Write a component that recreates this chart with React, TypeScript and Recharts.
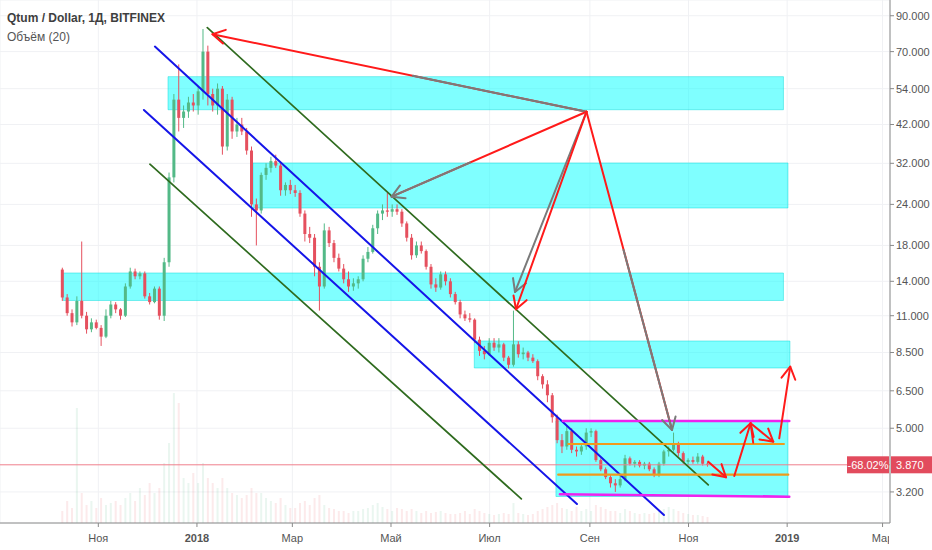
import React from 'react';
import { ComposedChart, Bar, XAxis, YAxis, CartesianGrid, ReferenceArea, ReferenceLine } from 'recharts';

const W = 932;
const H = 550;
const Y_AXIS_W = 42;
const X_AXIS_H = 27;
const FONT = '"Liberation Sans", Arial, sans-serif';

// days counted from 2018-01-01; one candle = 3 days
const FIRST_DAY = -83;
const STEP_DAYS = 3;

// [open, high, low, close]
const CANDLES: [number, number, number, number][] = [
  [15.2, 15.4, 12.2, 12.5], [12.5, 12.8, 11.0, 11.2], [11.2, 11.5, 10.2, 10.5], [10.5, 12.6, 10.3, 12.2],
  [12.2, 18.5, 10.8, 11.0], [11.0, 11.3, 9.7, 10.0], [10.0, 10.8, 9.8, 10.5], [10.5, 10.7, 10.0, 10.1],
  [10.1, 10.3, 8.9, 9.5], [9.5, 11.5, 9.4, 11.0], [11.0, 12.2, 10.8, 11.9], [11.9, 12.1, 11.2, 11.5],
  [11.5, 11.6, 10.7, 11.0], [11.0, 13.8, 10.9, 13.5], [13.5, 15.4, 13.3, 15.0], [15.0, 15.3, 14.2, 14.5],
  [14.5, 15.0, 14.2, 14.8], [14.8, 15.0, 12.4, 12.6], [12.6, 12.9, 11.9, 12.1], [12.1, 13.5, 12.0, 13.3],
  [13.3, 13.5, 10.7, 11.0], [11.0, 16.5, 10.6, 16.0], [16.0, 30, 15.5, 29], [29, 52, 28, 50],
  [50, 64, 40, 44], [44, 48, 41, 46], [46, 51, 44, 49], [49, 52, 46, 48],
  [48, 55, 45, 53], [53, 82, 50, 70], [70, 73, 48, 52], [52, 54, 46, 48],
  [48, 56, 45, 54], [54, 55, 34, 36], [36, 52, 35, 50], [50, 51, 38, 40],
  [40, 44, 38.5, 42], [42, 44, 39, 40], [40, 41, 34, 35], [35, 36, 22, 24],
  [24, 25, 18, 23], [23, 30, 22.5, 29.5], [29.5, 32, 28.5, 31], [31, 33.5, 30, 32.5],
  [32.5, 34, 31, 31.5], [31.5, 32, 25.5, 26.5], [26.5, 28, 25.5, 27.5], [27.5, 28.5, 25.8, 26.5],
  [26.5, 27.5, 25.3, 26], [26, 26.5, 22, 22.5], [22.5, 23, 18.5, 19.5], [19.5, 20.5, 18.3, 19],
  [19, 19.5, 14.5, 15.5], [15.5, 16, 11.4, 13.5], [13.5, 21, 13.3, 20], [20, 20.5, 17.8, 18.3],
  [18.3, 18.7, 16, 16.5], [16.5, 17, 15, 15.3], [15.3, 15.8, 13.8, 14.2], [14.2, 15, 13, 13.5],
  [13.5, 14.3, 13.1, 13.8], [13.8, 14.5, 13.3, 14.2], [14.2, 16.8, 14, 16.4], [16.4, 17.8, 16, 17.2],
  [17.2, 20.8, 17, 20.3], [20.3, 23, 19.5, 22.5], [22.5, 24, 21.5, 23], [23, 26, 22, 22.8],
  [22.8, 24, 22, 23.2], [23.2, 24, 22.3, 22.8], [22.8, 23.2, 20.5, 21], [21, 21.3, 18.5, 19],
  [19, 19.5, 16.3, 16.8], [16.8, 18.5, 16.5, 18], [18, 18.5, 17, 17.3], [17.3, 17.5, 15.2, 15.5],
  [15.5, 15.8, 13.3, 13.7], [13.7, 14.3, 13, 13.4], [13.4, 15, 13.2, 14.7], [14.7, 15, 13.6, 14],
  [14, 14.3, 12.5, 12.8], [12.8, 13, 11.9, 12.1], [12.1, 12.3, 10.8, 11.1], [11.1, 11.4, 10.6, 10.8],
  [10.8, 11.2, 10.5, 10.7], [10.7, 10.8, 9.1, 9.3], [9.3, 9.5, 8.3, 8.6], [8.6, 8.9, 8.1, 8.4],
  [8.4, 9.4, 8.3, 9.1], [9.1, 9.4, 8.6, 8.8], [8.8, 9.4, 8.5, 9.0], [9.0, 9.1, 8.0, 8.2],
  [8.2, 8.3, 7.6, 7.8], [7.8, 11.4, 7.7, 9.0], [9.0, 9.2, 8.2, 8.4], [8.4, 8.8, 8.1, 8.5],
  [8.5, 8.6, 8.0, 8.2], [8.2, 8.4, 7.9, 8.0], [8.0, 8.1, 7.0, 7.2], [7.2, 7.3, 6.6, 6.8],
  [6.8, 7.0, 6.0, 6.3], [6.3, 6.4, 5.2, 5.4], [5.4, 5.5, 4.5, 4.6], [4.6, 4.8, 4.2, 4.4],
  [4.4, 5.1, 4.3, 4.9], [4.9, 5.0, 4.2, 4.3], [4.3, 4.4, 4.1, 4.25], [4.25, 4.5, 4.15, 4.4],
  [4.4, 5.0, 4.3, 4.85], [4.85, 5.0, 4.7, 4.9], [4.9, 4.95, 3.95, 4.0], [4.0, 4.05, 3.7, 3.75],
  [3.75, 3.8, 3.5, 3.55], [3.55, 3.6, 3.3, 3.4], [3.4, 3.5, 3.2, 3.35], [3.35, 3.6, 3.3, 3.5],
  [3.5, 4.15, 3.45, 4.05], [4.05, 4.1, 3.85, 3.9], [3.9, 4.0, 3.8, 3.95], [3.95, 4.0, 3.8, 3.85],
  [3.85, 3.95, 3.75, 3.9], [3.9, 3.95, 3.7, 3.75], [3.75, 3.8, 3.55, 3.6], [3.6, 3.95, 3.55, 3.9],
  [3.9, 4.3, 3.85, 4.25], [4.25, 4.4, 4.1, 4.3], [4.3, 4.85, 4.25, 4.5], [4.5, 4.55, 4.1, 4.2],
  [4.2, 4.25, 3.9, 3.95], [3.95, 4.05, 3.85, 4.0], [4.0, 4.1, 3.9, 3.95], [3.95, 4.2, 3.9, 4.1],
  [4.1, 4.15, 3.85, 3.9], [3.9, 3.95, 3.82, 3.87],
];

const VOLUMES: number[] = [
  12, 22, 15, 115, 30, 18, 22, 15, 25, 18, 20, 22, 18, 25, 30, 22, 35, 28, 40, 30,
  35, 60, 80, 130, 120, 45, 40, 50, 40, 60, 45, 40, 35, 45, 35, 30, 28, 25, 28, 35,
  30, 30, 25, 22, 20, 25, 18, 15, 15, 20, 22, 18, 25, 28, 18, 15, 14, 12, 12, 10,
  12, 12, 14, 15, 18, 20, 16, 14, 12, 15, 14, 12, 14, 12, 10, 12, 10, 11, 12, 10,
  9, 9, 10, 12, 9, 14, 12, 10, 9, 8, 9, 10, 9, 20, 10, 9, 8, 9, 12, 14,
  16, 18, 20, 15, 14, 12, 16, 12, 14, 12, 18, 16, 14, 12, 12, 10, 14, 12, 10, 9,
  10, 9, 10, 12, 14, 16, 14, 12, 10, 9, 8, 8, 7, 6,
];

const X_TICKS = [-61, 0, 59, 120, 181, 243, 304, 365, 424];
const X_LABELS = ['Ноя', '2018', 'Мар', 'Май', 'Июл', 'Сен', 'Ноя', '2019', 'Мар'];
const X_BOLD = ['2018', '2019'];
const Y_TICKS = [3.2, 5, 6.5, 8.5, 11, 14, 18, 24, 32, 42, 54, 70, 90];
const X_DOMAIN: [number, number] = [-121.8, 428.6];
const Y_DOMAIN: [number, number] = [2.574, 100.5];
const VOL_DOMAIN: [number, number] = [0, 523];
const LAST_PRICE = 3.87;
const CHANGE_LABEL = '-68.02%';

// [dayFrom, dayTo, priceLow, priceHigh]
const ZONES: [number, number, number, number][] = [
  [-17.9, 362.7, 46.58, 58.74],
  [34.6, 365.5, 23.4, 32.08],
  [-82.7, 362.7, 12.24, 14.84],
  [171.5, 366.7, 7.627, 9.215],
  [222, 365.5, 3.099, 5.261],
];

type Pt = [number, number];
const GREEN_LINES: [Pt, Pt][] = [
  [[6.4, 82.8], [316.2, 3.36]],
  [[-29.1, 31.8], [200.6, 3.046]],
];
const BLUE_LINES: [Pt, Pt][] = [
  [[-26.0, 72.5], [288.8, 2.722]],
  [[-32.8, 46.5], [235.0, 2.941]],
];
const MAGENTA_LINES: [Pt, Pt][] = [
  [[226.3, 5.261], [366.3, 5.261]],
  [[224.5, 3.147], [366.3, 3.095]],
];
const ORANGE_LINES: [Pt, Pt][] = [
  [[229.6, 4.477], [363.0, 4.477]],
  [[223.4, 3.611], [365.7, 3.611]],
];

const APEX: Pt = [240.9, 45.93];
const ARROWS: { from: Pt; to: Pt; kind: string; head: boolean }[] = [
  { from: APEX, to: [9.6, 79.06], kind: 'red', head: true },
  { from: [133.6, 59.09], to: APEX, kind: 'grey', head: false },
  { from: APEX, to: [120.4, 25.33], kind: 'red', head: false },
  { from: [168.8, 32.17], to: [120.4, 25.33], kind: 'grey', head: true },
  { from: APEX, to: [196.7, 12.99], kind: 'grey', head: true },
  { from: APEX, to: [197.3, 11.51], kind: 'red', head: true },
  { from: APEX, to: [293.8, 4.939], kind: 'red', head: false },
  { from: [263.8, 17.44], to: [293.8, 4.939], kind: 'grey', head: true },
  { from: [316.2, 3.956], to: [327.2, 3.545], kind: 'red', head: true },
  { from: [332.3, 3.578], to: [342.4, 5.177], kind: 'red', head: true },
  { from: [344.0, 4.519], to: [342.4, 5.177], kind: 'red', head: false },
  { from: [342.4, 5.177], to: [356.4, 4.551], kind: 'red', head: true },
  { from: [360.1, 4.66], to: [366.9, 7.697], kind: 'red', head: true },
];

const STYLE: Record<string, { stroke: string; width: number }> = {
  red: { stroke: '#ff1a1a', width: 2 },
  grey: { stroke: '#7a7a7a', width: 2 },
  green: { stroke: '#2f6b1f', width: 1.7 },
  blue: { stroke: '#1515e8', width: 2 },
  magenta: { stroke: '#ee22ee', width: 2.6 },
  orange: { stroke: '#f09a1c', width: 2.2 },
};

const UP = '#53b987';
const DOWN = '#e5505e';
const AXIS = '#8a8a8a';
const TEXT = '#555555';

const rows = CANDLES.map(([o, h, l, c], i) => ({
  day: FIRST_DAY + i * STEP_DAYS,
  o, h, l, c,
  range: [l, h],
  vol: VOLUMES[i],
}));

const Candle = (props: any) => {
  const { x, y, width, height, payload } = props;
  if (!payload || !isFinite(y) || !isFinite(height)) return <g />;
  const { o, h, l, c } = payload;
  const lh = Math.log(h);
  const ll = Math.log(l);
  const py = (v: number) => (lh === ll ? y : y + (height * (lh - Math.log(v))) / (lh - ll));
  const cx = x + width / 2;
  const col = c >= o ? UP : DOWN;
  const top = py(Math.max(o, c));
  const bot = py(Math.min(o, c));
  return (
    <g>
      <line x1={cx} x2={cx} y1={y} y2={y + height} stroke={col} strokeWidth={1} />
      <rect x={x + 0.5} width={Math.max(1, width - 1)} y={top} height={Math.max(1, bot - top)} fill={col} />
    </g>
  );
};

const VolBar = (props: any) => {
  const { x, y, width, height, payload } = props;
  if (!payload || !isFinite(y) || !(height > 0)) return <g />;
  const col = payload.c >= payload.o ? UP : DOWN;
  return <rect x={x} y={y} width={width} height={height} fill={col} fillOpacity={0.12} />;
};

const makeLineShape = (head: boolean) => (p: any) => {
  const { x1, y1, x2, y2, stroke, strokeWidth } = p;
  const ang = Math.atan2(y2 - y1, x2 - x1);
  const len = 14;
  const spread = 0.52;
  const wing = (s: number) => `${x2 - len * Math.cos(ang + s)},${y2 - len * Math.sin(ang + s)}`;
  return (
    <g>
      <line x1={x1} y1={y1} x2={x2} y2={y2} stroke={stroke} strokeWidth={strokeWidth} strokeLinecap="round" />
      {head && (
        <polyline
          points={`${wing(spread)} ${x2},${y2} ${wing(-spread)}`}
          fill="none"
          stroke={stroke}
          strokeWidth={strokeWidth}
          strokeLinecap="round"
          strokeLinejoin="round"
        />
      )}
    </g>
  );
};

const XTick = (props: any) => {
  const { x, y, payload } = props;
  const idx = X_TICKS.indexOf(payload.value);
  const label = X_LABELS[idx] ?? '';
  const clipId = `xtick-clip-${idx}`;
  return (
    <g>
      <defs>
        <clipPath id={clipId}>
          <rect x={0} y={0} width={W - Y_AXIS_W - 1} height={H} />
        </clipPath>
      </defs>
      <text
        x={x}
        y={y}
        dy="0.71em"
        textAnchor="middle"
        fill={TEXT}
        fontSize={11}
        fontFamily={FONT}
        fontWeight={X_BOLD.includes(label) ? 700 : 400}
        clipPath={`url(#${clipId})`}
      >
        {label}
      </text>
    </g>
  );
};

const PriceLabel = (props: any) => {
  const vb = props.viewBox || {};
  const right = (vb.x ?? 0) + (vb.width ?? 0);
  const y = vb.y ?? 0;
  return (
    <g>
      <rect x={right - 43} y={y - 8.5} width={42} height={17} fill="#e24b5d" />
      <text x={right - 22} y={y} dy="0.36em" textAnchor="middle" fill="#fff" fontSize={11} fontFamily={FONT}>
        {CHANGE_LABEL}
      </text>
      <rect x={right + 1} y={y - 8.5} width={42} height={17} fill="#e24b5d" />
      <text x={right + 6} y={y} dy="0.36em" textAnchor="start" fill="#fff" fontSize={11} fontFamily={FONT}>
        {LAST_PRICE.toFixed(3)}
      </text>
    </g>
  );
};

const segLines = (lines: [Pt, Pt][], kind: string, keyBase: string) =>
  lines.map((ln, i) => (
    <ReferenceLine
      key={`${keyBase}-${i}`}
      xAxisId={0}
      yAxisId={0}
      segment={[{ x: ln[0][0], y: ln[0][1] }, { x: ln[1][0], y: ln[1][1] }]}
      stroke={STYLE[kind].stroke}
      strokeWidth={STYLE[kind].width}
      shape={makeLineShape(false)}
      ifOverflow="visible"
    />
  ));

export default function App() {
  return (
    <div style={{ position: 'relative', width: W, height: H, background: '#fff', fontFamily: FONT, overflow: 'hidden' }}>
      <style>{'body{margin:0;}'}</style>
      <ComposedChart width={W} height={H} data={rows} margin={{ top: 0, right: 0, bottom: 0, left: 0 }}>
        <CartesianGrid xAxisId={0} yAxisId={0} stroke="#f0f1f4" />
        <XAxis
          xAxisId={0}
          type="number"
          dataKey="day"
          domain={X_DOMAIN}
          ticks={X_TICKS}
          interval={0}
          allowDataOverflow
          height={X_AXIS_H}
          tick={<XTick />}
          tickSize={4}
          tickMargin={7}
          axisLine={{ stroke: AXIS }}
          tickLine={{ stroke: AXIS }}
        />
        <XAxis xAxisId="v" type="number" dataKey="day" domain={X_DOMAIN} allowDataOverflow hide />
        <YAxis
          yAxisId={0}
          orientation="right"
          type="number"
          scale="log"
          domain={Y_DOMAIN}
          ticks={Y_TICKS}
          interval={0}
          allowDataOverflow
          width={Y_AXIS_W}
          tickSize={4}
          tickMargin={2}
          tickFormatter={(v: number) => v.toFixed(3)}
          tick={{ fill: TEXT, fontSize: 11, fontFamily: FONT }}
          axisLine={{ stroke: AXIS }}
          tickLine={{ stroke: AXIS }}
        />
        <YAxis yAxisId="v" type="number" domain={VOL_DOMAIN} hide />

        <Bar xAxisId="v" yAxisId="v" dataKey="vol" barSize={2} shape={VolBar} isAnimationActive={false} />

        {ZONES.map((z, i) => (
          <ReferenceArea
            key={`zone-${i}`}
            xAxisId={0}
            yAxisId={0}
            x1={z[0]}
            x2={z[1]}
            y1={z[2]}
            y2={z[3]}
            fill="#00ffff"
            fillOpacity={0.5}
            stroke="#00d8d8"
            strokeOpacity={0.45}
            ifOverflow="visible"
          />
        ))}

        <Bar xAxisId={0} yAxisId={0} dataKey="range" barSize={4} shape={Candle} isAnimationActive={false} />

        <ReferenceLine
          xAxisId={0}
          yAxisId={0}
          y={LAST_PRICE}
          stroke="#ef7f8c"
          strokeWidth={1}
          ifOverflow="visible"
          label={PriceLabel}
        />

        {segLines(GREEN_LINES, 'green', 'g')}
        {segLines(BLUE_LINES, 'blue', 'b')}
        {segLines(ORANGE_LINES, 'orange', 'o')}
        {segLines(MAGENTA_LINES, 'magenta', 'm')}

        {ARROWS.map((a, i) => (
          <ReferenceLine
            key={`arrow-${i}`}
            xAxisId={0}
            yAxisId={0}
            segment={[{ x: a.from[0], y: a.from[1] }, { x: a.to[0], y: a.to[1] }]}
            stroke={STYLE[a.kind].stroke}
            strokeWidth={STYLE[a.kind].width}
            shape={makeLineShape(a.head)}
            ifOverflow="visible"
          />
        ))}
      </ComposedChart>
      <div style={{ position: 'absolute', left: 7, top: 11, fontSize: 12, fontWeight: 700, color: '#3e3e3e', whiteSpace: 'nowrap' }}>
        Qtum / Dollar, 1Д, BITFINEX
      </div>
      <div style={{ position: 'absolute', left: 7, top: 30, fontSize: 12, fontWeight: 400, color: '#555', whiteSpace: 'nowrap' }}>
        Объём (20)
      </div>
    </div>
  );
}
